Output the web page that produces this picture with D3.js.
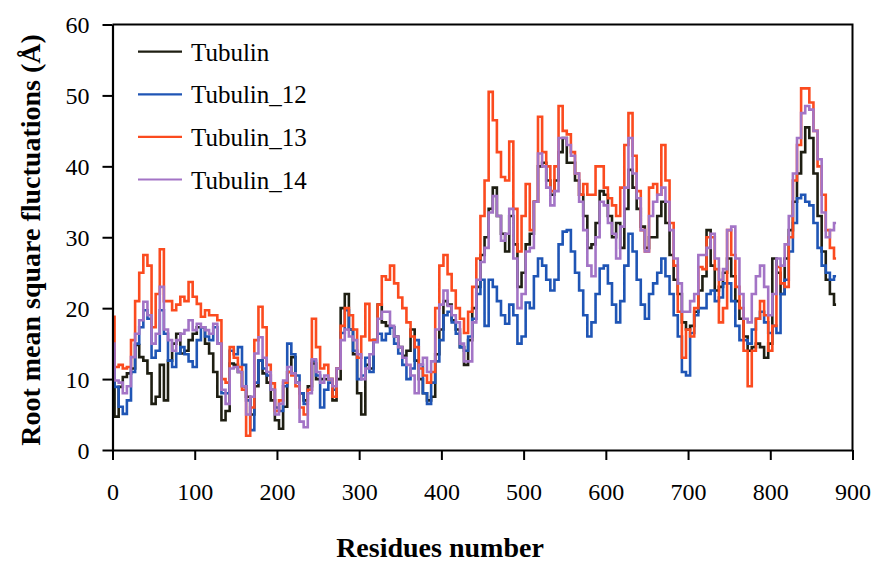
<!DOCTYPE html>
<html><head><meta charset="utf-8">
<script src="https://cdn.jsdelivr.net/npm/d3@7"></script>
<style>
body{margin:0;background:#fff}
svg{display:block}
text{font-family:"Liberation Serif","Times New Roman",serif;fill:#000}
</style>
</head><body><svg id="c" width="874" height="564"></svg>
<script>
// Residue positions (every 5 residues)
const residues = d3.range(0, 881, 5);

const tubulin = [
14,4.7,8.9,10.3,10.8,11.5,14.8,13.1,12.6,10.8,
6.5,7.5,12,7,12.6,15,16.4,13.6,14,15.5,
16.4,17.3,17.3,15,13.6,11,7.5,4.2,5.5,12.2,
12,11,9,7.5,5,9,12.6,10.8,9.5,7,
4.2,3,6.1,11,13.1,9.5,8,7,9,12.2,
10,10,10,10,7,10,20,22,17,13.5,
8,5,12,11.5,15.5,20.5,18,17.5,17.3,16,
14.5,13.3,14,17,12.6,10,8,7,7.5,13.5,
17,21,20.5,18.3,17,14.5,12,15.5,20,23,
27.5,30,34,37,33,30.5,28,33,29,23,
25,29,30.5,35,40,40.5,38,36,38,42,
44,40.5,40.5,38,36,33,28.5,29,32,36.5,
36,33,30,32,28.5,34,39.5,37,34,31.5,
28.5,30,30,33,35,32,27.5,24,22,18,
17,17.5,19.5,22.5,24.5,31,26,22.5,23,25,
27,24.5,21,18.5,16,14,14.5,15,14.5,13,
15,27,25,22,27,31,35,39,42,45.5,
44,39,33,28,24,22,20.5];

const tubulin12 = [
12.6,8.9,6.1,5.1,7,11,15,17.3,19.7,18.5,
13,14,19.7,16.4,12.6,11.7,13.6,14.5,13.5,12.5,
11.7,15.5,17.3,16,15.5,17.3,15,8,8,14,
13.5,14.5,12,7,2.8,9.5,12.6,11.5,10.5,8.5,
6,5.5,9,15,13.5,10.5,8,6.5,8.5,12.6,
10.5,6,8.5,9.5,8.5,11.5,16.5,19.7,17,14,
10,10.5,13,11,15.5,16.4,15.5,16.4,17.3,15,
13.6,12,10,11.5,15.5,12,8,6.5,9.5,12.5,
15.5,19,19.5,18,16.4,14.5,14,16,18.5,22,
24,17.5,24,23,21,19,17.8,20.5,19,15,
16,20.8,20,24.5,27,26,24,22.5,24,29,
30.8,31,28,25,22.5,19,16,18,22,25.6,
26,23.5,20.5,18,21,26,30.5,28,24,20.5,
18.5,22,23.5,25,27,24.5,22,19,16,11,
10.5,16.5,19,20,20,22,22.5,21,21.5,23.5,
23.5,21,17.5,15.5,15.5,15,17,18.5,19.5,18,
16.5,17.5,16.5,22,24,28,32,35.5,36,35,
34.5,32,28.5,26,25,24,24.5];

const tubulin13 = [
18.8,11.7,12,11.5,11.7,15.5,21,25,27.5,26,
17.3,22,28.3,21,21,19.7,20.5,21.6,21,23.7,
21.6,20.6,18.8,19.7,19,19,18.3,10,9.5,14.5,
13,11.7,8.5,2,6,15.5,20.2,17.3,12,9.4,
5.5,7,9.5,11,10.5,9,6,5,8.5,18.5,
14.5,11.5,12,10,7.5,11.5,17.5,20,19,17,
13,16,20.6,15.5,15.5,20.5,24.5,24,26,23.5,
21.5,20,18,16,14.5,11.5,10.5,9.5,11,20,
26,27.5,24.8,22.5,20,18.5,16.5,19.5,23,27,
33,38,50.5,46.5,42,38.5,38,43.5,34,28,
33,37.5,31,35,47,42,40,36.5,40,48.5,
45,44.5,42,39,36,37.5,36,36,40,40,
37,35.5,34.5,33,37,43,47.5,41.5,36.5,31,
28,37,37.5,36,43,38,32,26,19.5,13,
17,16,20,25.8,25.5,30,30,25.5,18,20,
31,27.5,23,20,14,9,14,18.5,21,19,
14,17.5,25.8,23.5,23,30,38,43,51,51,
49,45,40,36,31,28.5,27];

const tubulin14 = [
15,9.8,9.5,8,9,13.1,16.4,18.3,20.9,19,
15,16.4,23,17,15.5,14,15.5,16.4,16.9,18.3,
16.9,17.8,17.3,16.9,16.4,17.8,15,8.5,6.5,11.5,
11.7,11,9,5,7.5,13.6,15.9,13,11,8.5,
5,6.5,9.8,11.7,10.8,9.5,4,3.2,8,12.8,
11,9.5,10.5,10,9,11.5,15.5,17,16,15.5,
13.5,10,11.5,13.5,15.2,18.5,19.5,19.5,17.5,16,
14.5,13,12,10.5,8,12,13,11,12.5,17,
20.5,22.5,20.3,19,18,15,12.5,12.5,18,24,
26.5,28.5,33.5,35.8,33,29.5,30.5,34,27,20,
22,28,28.5,35,41.8,40,37,34.5,36.5,44,
44,43,41.5,39,35,31,26,24.5,30,35,
34.5,32,30.5,27,31.5,37,44,39,35.5,31,
28,33,35,36,37,35,31,27,23.5,19.5,
19.5,21,22,27.5,27.5,28.5,30.5,27,24,25.5,
31,31.5,27,22,18.5,18,22,24.5,26,23,
19,22,27,26,29,33,39,44,47.5,48.5,
48,45,41,33.5,30,31,32];

const seriesNames = ["Tubulin", "Tubulin_12", "Tubulin_13", "Tubulin_14"];
const seriesColors = ["#1e1e12", "#1f55b5", "#fb4b1f", "#a374c6"];
const seriesValues = [tubulin, tubulin12, tubulin13, tubulin14];
const xTicks = [0,100,200,300,400,500,600,700,800,900];
const yTicks = [0,10,20,30,40,50,60];

(function () {
const svg = d3.select("#c");
const pl = 112.5, pr = 852.5, pt = 24.5, pb = 450;
const x = d3.scaleLinear().domain([0, 900]).range([pl, pr]);
const y = d3.scaleLinear().domain([0, 60]).range([pb, pt]);

// series
const line = d3.line().x((d, i) => x(residues[i])).y(d => y(d)).curve(d3.curveStep);
seriesValues.forEach((vals, k) => {
  svg.append("path").datum(vals)
    .attr("d", line)
    .attr("fill", "none")
    .attr("stroke", seriesColors[k])
    .attr("stroke-width", 2.6)
    .attr("stroke-linejoin", "miter");
});

// frame (top and right)
svg.append("path")
  .attr("d", `M${pl},${pt}H${pr}V${pb}`)
  .attr("fill", "none").attr("stroke", "#000").attr("stroke-width", 2);

// axes
const gx = svg.append("g").attr("transform", `translate(0,${pb})`)
  .call(d3.axisBottom(x).tickValues(xTicks).tickSize(10).tickSizeOuter(0));
gx.select(".domain").attr("stroke-width", 2.2);
gx.selectAll(".tick line").attr("stroke-width", 2);
gx.selectAll("text").attr("y", 50).attr("dy", 0).style("font-size", "24px").attr("fill", "#000");

const gy = svg.append("g").attr("transform", `translate(${pl},0)`)
  .call(d3.axisLeft(y).tickValues(yTicks).tickSize(10).tickSizeOuter(0));
gy.select(".domain").attr("stroke-width", 2.2);
gy.selectAll(".tick line").attr("stroke-width", 2);
gy.selectAll("text").attr("x", -23).attr("dy", "0.35em").style("font-size", "24px").attr("fill", "#000");

// titles
svg.append("text").attr("x", 440).attr("y", 557)
  .attr("text-anchor", "middle").style("font-size", "28px").style("font-weight", "bold")
  .text("Residues number");
svg.append("text").attr("transform", "translate(40,240) rotate(-90)")
  .attr("text-anchor", "middle").style("font-size", "28px").style("font-weight", "bold")
  .text("Root mean square fluctuations (Å)");

// legend
const lg = svg.append("g");
seriesNames.forEach((name, k) => {
  const ly = 51.7 + k * 42.6;
  lg.append("line").attr("x1", 138).attr("x2", 182).attr("y1", ly).attr("y2", ly)
    .attr("stroke", seriesColors[k]).attr("stroke-width", 2.2);
  lg.append("text").attr("x", 191).attr("y", ly + 9)
    .style("font-size", "25px").text(name);
});
})();
</script>
</body></html>
